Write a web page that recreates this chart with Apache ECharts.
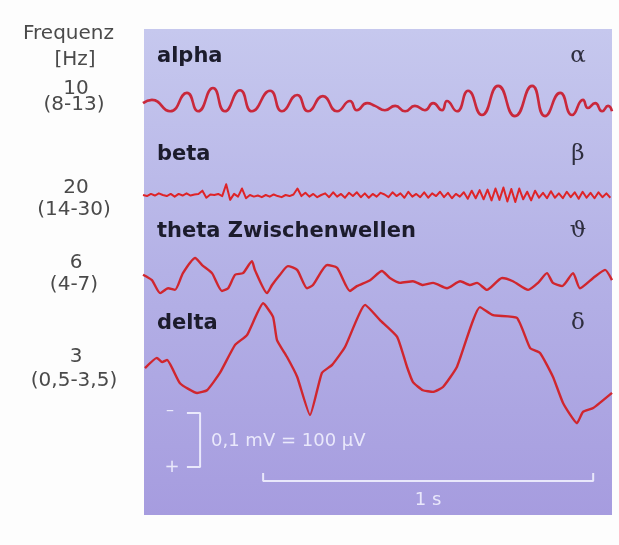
<!DOCTYPE html>
<html>
<head>
<meta charset="utf-8">
<script src="https://cdn.jsdelivr.net/npm/echarts@6/dist/echarts.min.js"></script>
<style>
  html, body { margin: 0; padding: 0; background: #fdfdfd; }
  #eeg { width: 619px; height: 545px; }
</style>
</head>
<body>
<div id="eeg"></div>
<script>
  // time in ms, amplitude in µV (up = positive)
  var alphaWave = [[0,-4],[27,2],[82,-19],[133,15],[167,-19],[212,24],[248,-19],[294,20],[330,-19],[385,19],[421,-19],
    [467,11],[500,-19],[545,9],[588,-19],[627,0],[648,-17],[679,-4],[703,-9],[733,-17],[764,-9],[794,-19],[824,-9],
    [854,-17],[879,-4],[906,-17],[921,0],[951,-19],[985,19],[1027,-26],[1076,28],[1127,-28],[1179,28],[1218,-28],
    [1264,15],[1300,-26],[1333,2],[1348,-13],[1370,-4],[1391,-19],[1409,-9],[1421,-19]];

  // beta sampled every 12 ms
  var betaStep = 12;
  var betaWave = [0,-2,2,-1,3,0,-2,2,-3,2,-1,3,-1,
    1,2,8,-5, 1,0,2,
    -2,20,-9,2,-3,12,-6,0,
    -3,-1,-4,0,-3,1,-2,-4,0,-2,
    1,12,-2,4,-3,2,-4,0,
    3,-4,5,-3,2,-5,4,-2,5,-4,3,-5,2,-3,4,
    1,-4,5,-2,3,-5,6,-3,2,-4,5,-5,3,-2,6,-4,4,-6,2,-3,
    5,-7,8,-6,9,-8,10,-10,12,-9,14,-12,11,-13,12,-8,6,-10,8,-5,
    4,-6,7,-5,3,-6,6,-4,5,-7,6,-5,4,-6,5,-4,3,-5];

  var thetaWave = [[0,6],[27,-4],[52,-28],[76,-19],[97,-22],[121,9],[158,37],[179,24],[209,9],[239,-24],[258,-19],
    [279,6],[303,9],[330,31],[339,15],[376,-28],[391,-13],[415,6],[439,22],[467,15],[497,-19],[515,-13],[558,24],
    [588,19],[627,-24],[648,-15],[688,-4],[724,13],[748,0],[779,-9],[818,-6],[848,-13],[879,-9],[921,-19],[961,-6],
    [991,-13],[1012,-9],[1042,-22],[1088,0],[1121,-6],[1167,-22],[1197,-9],[1224,9],[1242,-9],[1270,-15],[1303,9],
    [1324,-19],[1364,0],[1400,15],[1421,-4]];

  var deltaWave = [[6,-15],[42,4],[58,-4],[73,0],[112,-43],[164,-61],[194,-56],[233,-24],[279,28],[315,46],[364,105],
    [394,80],[406,37],[436,6],[467,-31],[506,-102],[542,-24],[573,-9],[612,24],[673,102],[718,74],[770,43],[800,-13],
    [818,-41],[848,-56],[879,-59],[909,-50],[951,-13],[1021,98],[1061,83],[1133,78],[1173,22],[1203,13],[1242,-31],
    [1273,-80],[1315,-117],[1333,-96],[1364,-89],[1421,-61]];

  var bandNames = ['alpha', 'beta', 'theta Zwischenwellen', 'delta'];
  var bandSymbols = ['\u03B1', '\u03B2', '\u03D1', '\u03B4'];
  var bandFreq = ['10', '20', '6', '3'];
  var bandRange = ['(8-13)', '(14-30)', '(4-7)', '(0,5-3,5)'];

  var scaleUv = 100;     // 0,1 mV
  var scaleMs = 1000;    // 1 s
  var T_MAX = 1421;

  // layout
  var PX_PER_UV = 0.54;
  var PANEL = { x: 144, y: 29, w: 468, h: 486 };
  var bands = [
    { base: 101, half: 40 },
    { base: 195, half: 30 },
    { base: 278, half: 50 },
    { base: 360, half: 130 },
    { base: 467, min: -40, max: 120 }   // scale bars
  ];

  var grids = [], xAxes = [], yAxes = [];
  bands.forEach(function (b, i) {
    var min = b.min != null ? b.min : -b.half;
    var max = b.max != null ? b.max : b.half;
    grids.push({ left: 143, width: 469, top: b.base - max * PX_PER_UV, height: (max - min) * PX_PER_UV });
    xAxes.push({ type: 'value', gridIndex: i, min: 0, max: T_MAX, show: false });
    yAxes.push({ type: 'value', gridIndex: i, min: min, max: max, show: false });
  });

  function trace(idx, data, color, width, smooth) {
    return {
      type: 'line', xAxisIndex: idx, yAxisIndex: idx, data: data,
      showSymbol: false, smooth: smooth, silent: true, z: 5,
      lineStyle: { color: color, width: width, join: 'round' }
    };
  }

  var betaData = betaWave.map(function (v, i) { return [i * betaStep, v]; });

  var scaleColor = 'rgba(245,245,255,0.85)';
  var vx = 173, tx = 364;
  var series = [
    trace(0, alphaWave, '#c9283b', 2.6, 0.55),
    trace(1, betaData, '#de2428', 2, false),
    trace(2, thetaWave, '#d0262e', 2.4, 0.2),
    trace(3, deltaWave, '#d0262e', 2.4, 0.15),
    {
      type: 'line', xAxisIndex: 4, yAxisIndex: 4, showSymbol: false, silent: true,
      lineStyle: { color: scaleColor, width: 2 },
      data: [[vx - 40, scaleUv], [vx, scaleUv], [vx, 0], [vx - 40, 0]]
    },
    {
      type: 'line', xAxisIndex: 4, yAxisIndex: 4, showSymbol: false, silent: true,
      lineStyle: { color: scaleColor, width: 2 },
      data: [[tx, -11], [tx, -26], [tx + scaleMs, -26], [tx + scaleMs, -11]]
    }
  ];

  var greyText = '#4a4a4a';
  var labelFont = '20px "DejaVu Sans"';
  var graphics = [{
    type: 'rect', z: -10,
    shape: { x: PANEL.x, y: PANEL.y, width: PANEL.w, height: PANEL.h },
    style: {
      fill: new echarts.graphic.LinearGradient(0, 0, 0, 1, [
        { offset: 0, color: '#c6c8ee' },
        { offset: 0.5, color: '#b4b1e6' },
        { offset: 1, color: '#a69cdf' }
      ])
    }
  }, {
    type: 'text', left: 23, top: 24,
    style: { text: 'Frequenz', font: labelFont, fill: greyText }
  }, {
    type: 'text', x: 75, y: 60,
    style: { text: '[Hz]', font: labelFont, fill: greyText, align: 'center', verticalAlign: 'middle' }
  }];

  var freqY = [89, 188, 263, 357];
  var rangeY = [105, 210, 285, 381];
  var nameY = [57, 155, 232, 324];
  bandNames.forEach(function (n, i) {
    graphics.push({
      type: 'text', x: 76, y: freqY[i],
      style: { text: bandFreq[i], font: labelFont, fill: greyText, align: 'center', verticalAlign: 'middle' }
    }, {
      type: 'text', x: 74, y: rangeY[i],
      style: { text: bandRange[i], font: labelFont, fill: greyText, align: 'center', verticalAlign: 'middle' }
    }, {
      type: 'text', x: 157, y: nameY[i], z: 6,
      style: { text: n, font: 'bold 21px "DejaVu Sans"', fill: '#1c1c2c', align: 'left', verticalAlign: 'middle' }
    }, {
      type: 'text', x: 578, y: nameY[i] - 1, z: 6,
      style: { text: bandSymbols[i], font: '23px "DejaVu Serif"', fill: '#2e2e3e', align: 'center', verticalAlign: 'middle' }
    });
  });

  graphics.push({
    type: 'text', x: 170, y: 411,
    style: { text: '\u2013', font: '16px "DejaVu Sans"', fill: scaleColor, align: 'center', verticalAlign: 'middle' }
  }, {
    type: 'text', x: 172, y: 467,
    style: { text: '+', font: '18px "DejaVu Sans"', fill: scaleColor, align: 'center', verticalAlign: 'middle' }
  }, {
    type: 'text', x: 211, y: 441,
    style: { text: '0,1 mV = 100 \u00B5V', font: '18px "DejaVu Sans"', fill: scaleColor, align: 'left', verticalAlign: 'middle' }
  }, {
    type: 'text', x: 428, y: 500,
    style: { text: '1 s', font: '18px "DejaVu Sans"', fill: scaleColor, align: 'center', verticalAlign: 'middle' }
  });

  var chart = echarts.init(document.getElementById('eeg'));
  chart.setOption({
    backgroundColor: '#fdfdfd',
    animation: false,
    grid: grids,
    xAxis: xAxes,
    yAxis: yAxes,
    series: series,
    graphic: graphics
  });
</script>
</body>
</html>
